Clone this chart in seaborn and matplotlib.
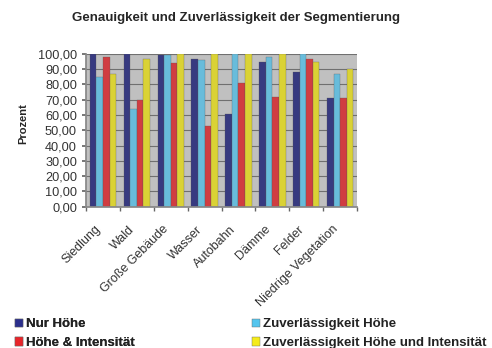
import matplotlib
matplotlib.use("Agg")
import matplotlib.pyplot as plt
import matplotlib.transforms as mtransforms
import seaborn as sns
import pandas as pd
import numpy as np
from matplotlib.patches import Patch

categories = ["Siedlung", "Wald", "Große Gebäude", "Wasser", "Autobahn",
              "Dämme", "Felder", "Niedrige Vegetation"]
series_names = ["Nur Höhe", "Zuverlässigkeit Höhe", "Höhe & Intensität",
                "Zuverlässigkeit Höhe und Intensität"]
nur_hoehe = [100, 100, 99, 97, 61, 95, 88, 71]
zuv_hoehe = [85, 64, 99, 96, 100, 98, 100, 87]
hoehe_int = [98, 70, 94, 53, 81, 72, 97, 71]
zuv_hoehe_int = [87, 97, 100, 100, 100, 100, 95, 90]
colors = ["#2B2F8C", "#55C5EE", "#E8252A", "#F5EB1A"]
yticks = [0, 10, 20, 30, 40, 50, 60, 70, 80, 90, 100]
ytick_labels = ["0,00", "10,00", "20,00", "30,00", "40,00", "50,00",
                "60,00", "70,00", "80,00", "90,00", "100,00"]

rows = []
for name, vals in zip(series_names, [nur_hoehe, zuv_hoehe, hoehe_int, zuv_hoehe_int]):
    for c, v in zip(categories, vals):
        rows.append({"Kategorie": c, "Serie": name, "Wert": v})
df = pd.DataFrame(rows)

sns.set_theme(style="white")
plt.rcParams["font.family"] = ["Liberation Sans", "DejaVu Sans"]

fig = plt.figure(figsize=(4.92, 3.48), dpi=100)
ax = fig.add_axes([0.1748, 0.406, 0.551, 0.439])
ax.set_facecolor("#C0C0C0")
ax.yaxis.grid(True, color="#707070", linewidth=0.8)
ax.set_axisbelow(True)

sns.barplot(data=df, x="Kategorie", y="Wert", hue="Serie", order=categories,
            hue_order=series_names, palette=colors, width=0.78, ax=ax,
            edgecolor="#555555", linewidth=0.2, legend=False, errorbar=None)

ax.set_ylim(0, 100)
ax.set_xlim(-0.5, len(categories) - 0.5)
ax.set_yticks(yticks)
ax.set_yticklabels(ytick_labels, fontsize=9.2, color="#333333")
ax.set_xticks(range(len(categories)))
ax.set_xticklabels(categories, rotation=45, ha="right", va="top",
                   fontsize=9, color="#333333")
offset = mtransforms.ScaledTranslation(-7 / 100, 0, fig.dpi_scale_trans)
for lbl in ax.get_xticklabels():
    lbl.set_transform(lbl.get_transform() + offset)
ax.set_xticks(np.arange(-0.5, len(categories), 1), minor=True)
ax.tick_params(axis="x", which="major", length=0, pad=12)
ax.tick_params(axis="x", which="minor", length=3, color="#666666", direction="out", bottom=True)
ax.tick_params(axis="y", length=3, color="#666666", direction="out", left=True, pad=3.5)
for s in ["top", "right"]:
    ax.spines[s].set_visible(False)
ax.spines["left"].set_color("#888888")
ax.spines["bottom"].set_color("#888888")
ax.set_xlabel("")
ax.set_ylabel("")
fig.text(0.048, 0.645, "Prozent", rotation=90, ha="center", va="center",
         fontsize=8, fontweight="bold")

fig.text(0.48, 0.948, "Genauigkeit und Zuverlässigkeit der Segmentierung",
         ha="center", va="center", fontsize=9.5, fontweight="bold")

def make_legend(idx, x):
    handles = [Patch(facecolor=colors[i], edgecolor="#666666", linewidth=0.3) for i in idx]
    labels = [series_names[i] for i in idx]
    leg = fig.legend(handles, labels, loc="upper left", bbox_to_anchor=(x, 0.085),
                     frameon=False, prop={"size": 9.5, "weight": "bold"},
                     handlelength=0.6, handleheight=0.6, handletextpad=0.25,
                     labelspacing=0.5, borderpad=0, borderaxespad=0)
    for t in leg.get_texts():
        t.set_color("#222222")
    return leg

leg1 = make_legend([0, 2], 15 / 492)
fig.add_artist(leg1)
leg2 = make_legend([1, 3], 252 / 492)

fig.savefig("out.png", dpi=100)
